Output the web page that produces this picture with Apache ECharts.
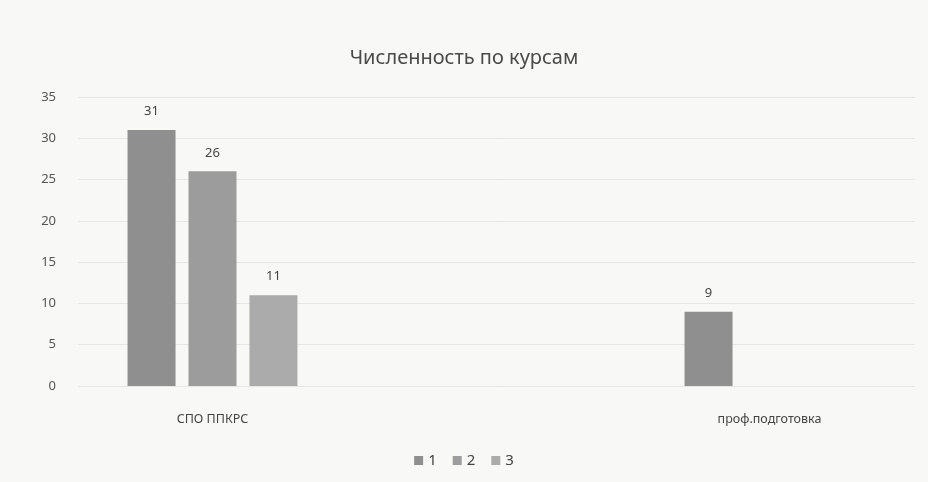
<!DOCTYPE html>
<html>
<head>
<meta charset="utf-8">
<script src="https://cdn.jsdelivr.net/npm/echarts@6/dist/echarts.min.js"></script>
<style>
html,body{margin:0;padding:0;background:#f8f8f7;}
#c{width:928px;height:482px;}
</style>
</head>
<body>
<div id="c"></div>
<script>
const categories = ['СПО ППКРС', 'проф.подготовка'];
const seriesNames = ['1', '2', '3'];
const series1 = [31, 9];
const series2 = [26, null];
const series3 = [11, null];
const yTicks = [0, 35, 5];

const chart = echarts.init(document.getElementById('c'), null, {renderer: 'canvas'});
const colors = ['#8f8f8f', '#9c9c9c', '#ababab'];
const font = 'Noto Sans, DejaVu Sans, sans-serif';
const labelCfg = {show: true, position: 'top', distance: 12, color: '#444', fontSize: 13, fontFamily: font};
const values = [series1, series2, series3];

chart.setOption({
  backgroundColor: '#f8f8f7',
  animation: false,
  color: colors,
  title: {
    text: 'Численность по курсам',
    left: 'center', top: 43,
    textStyle: {color: '#4a4a4a', fontSize: 20, fontWeight: 'normal', fontFamily: font}
  },
  legend: {
    bottom: 9, left: 'center',
    itemWidth: 9, itemHeight: 9, itemGap: 16,
    icon: 'rect',
    textStyle: {color: '#444', fontSize: 15, fontFamily: font},
    data: seriesNames
  },
  grid: [
    {left: 78, right: 13, top: 97, bottom: 96, outerBoundsMode: 'none'},
    {left: -66, width: 1114, top: 97, bottom: 96, outerBoundsMode: 'none', containLabel: false}
  ],
  xAxis: [
    {gridIndex: 0, type: 'category', data: categories, show: false},
    {gridIndex: 1, type: 'category', data: categories,
     axisLine: {show: false}, axisTick: {show: false},
     axisLabel: {color: '#444', fontSize: 12.5, margin: 27, fontFamily: font}}
  ],
  yAxis: [
    {gridIndex: 0, type: 'value', min: yTicks[0], max: yTicks[1], interval: yTicks[2],
     axisLine: {show: false}, axisTick: {show: false},
     axisLabel: {color: '#555', fontSize: 13, margin: 22, fontFamily: font},
     splitLine: {lineStyle: {color: '#e6e6e6', width: 1}}},
    {gridIndex: 1, type: 'value', min: yTicks[0], max: yTicks[1], interval: yTicks[2], show: false,
     splitLine: {show: false}}
  ],
  series: seriesNames.map((n, i) => ({
    name: n, type: 'bar', xAxisIndex: 1, yAxisIndex: 1,
    data: values[i], barWidth: 48, barGap: '27%', clip: false,
    itemStyle: {color: colors[i]},
    label: labelCfg
  }))
});
</script>
</body>
</html>
